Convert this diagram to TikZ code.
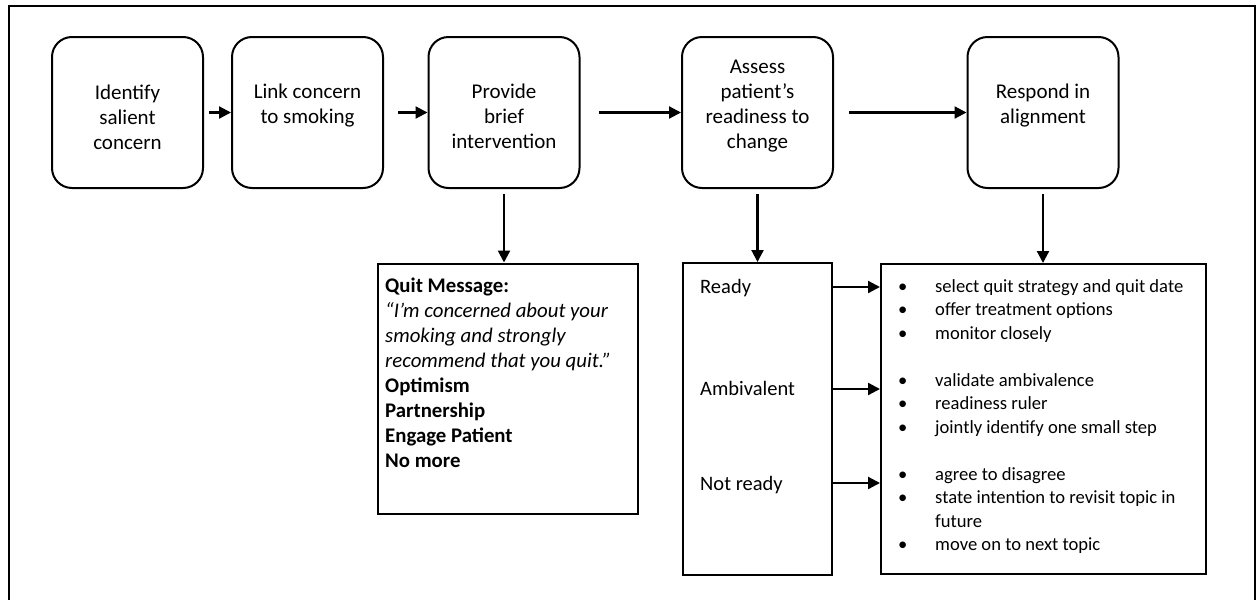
\documentclass[tikz,border=0pt]{standalone}
\usepackage{fontspec}
\setmainfont{Carlito}
\usetikzlibrary{arrows.meta,calc}
\newcommand\topfont{\fontsize{21}{25}\selectfont}
\newcommand\midfont{\fontsize{20.5}{25}\selectfont}
\newcommand\quitfont{\fontsize{20.8}{25.1}\selectfont}
\newcommand\listfont{\fontsize{18.6}{23.5}\selectfont}
\newcommand\bl{\makebox[38pt][l]{\hspace*{1pt}\textbullet}}
\begin{document}
\begin{tikzpicture}[x=1pt,y=-1pt,
  box/.style={draw,line width=2pt,rounded corners=20pt,minimum width=151pt,minimum height=151pt,inner sep=0pt},
  plain/.style={draw,line width=2pt,inner sep=0pt},
  arr/.style={line width=2.2pt,-{Triangle[length=12pt,width=12pt]}},
  txt/.style={inner sep=0pt,anchor=base}]
\useasboundingbox (0,0) rectangle (1257,600);
\draw[line width=2pt] (9,600) -- (9,6) -- (1255,6) -- (1255,600);

% top boxes
\node[box] (b1) at (127.5,112.5) {};
\node[box] (b2) at (307.5,112.5) {};
\node[box] (b3) at (504,112.5) {};
\node[box] (b4) at (757.5,112.5) {};
\node[box] (b5) at (1043,112.5) {};

\node[txt] (t1) at (127.5,99) {\parbox[t]{140pt}{\centering\topfont Identify\\salient\\concern}};
\node[txt] (t2) at (307.5,98) {\parbox[t]{140pt}{\centering\topfont Link concern\\to smoking}};
\node[txt] (t3) at (504,98) {\parbox[t]{140pt}{\centering\topfont Provide\\brief\\intervention}};
\node[txt] (t4) at (757.5,73) {\parbox[t]{140pt}{\centering\topfont Assess\\patient’s\\readiness to\\change}};
\node[txt] (t5) at (1043,98) {\parbox[t]{140pt}{\centering\topfont Respond in\\alignment}};

\draw[arr] ([xshift=5pt]b1.east) -- (b2.west);
\draw[arr] ([xshift=14pt]b2.east) -- (b3.west);
\draw[arr] ([xshift=18pt]b3.east) -- (b4.west);
\draw[arr] ([xshift=15pt]b4.east) -- (b5.west);

% lower boxes
\node[plain, minimum width=260pt, minimum height=250pt] (quit) at (508,388.5) {};
\node[plain, minimum width=149pt, minimum height=312pt] (ready) at (757.5,419) {};
\node[plain, minimum width=325pt, minimum height=310pt] (resp) at (1043.5,419) {};

\draw[arr] ([yshift=-5pt]b3.south) -- (b3.south |- quit.north);
\draw[arr] ([yshift=-5pt]b4.south) -- (b4.south |- ready.north);
\draw[arr] ([yshift=-5pt]b5.south) -- (b5.south |- resp.north);

\node[txt, anchor=base west] (qt) at (385,292) {\parbox[t]{250pt}{\raggedright\quitfont
\textbf{Quit Message:}\\
{\itshape “I’m concerned about your\\
smoking and strongly\\
recommend that you quit.”}\\
\textbf{Optimism}\\
\textbf{Partnership}\\
\textbf{Engage Patient}\\
\textbf{No more}}};

\node[txt, anchor=base west] (r1) at (700,293) {\midfont Ready};
\node[txt, anchor=base west] (r2) at (700,395) {\midfont Ambivalent};
\node[txt, anchor=base west] (r3) at (700,490) {\midfont Not ready};

\coordinate (a1) at (0,287);
\coordinate (a2) at (0,389);
\coordinate (a3) at (0,483);
\draw[arr] (ready.east |- a1) -- (resp.west |- a1);
\draw[arr] (ready.east |- a2) -- (resp.west |- a2);
\draw[arr] (ready.east |- a3) -- (resp.west |- a3);

\node[txt, anchor=base west] (rt) at (897,292) {\parbox[t]{305pt}{\raggedright\listfont
\bl select quit strategy and quit date\\
\bl offer treatment options\\
\bl monitor closely\\
\mbox{}\\
\bl validate ambivalence\\
\bl readiness ruler\\
\bl jointly identify one small step\\
\mbox{}\\
\bl agree to disagree\\
\bl state intention to revisit topic in\\
\hspace*{38pt}future\\
\bl move on to next topic}};
\end{tikzpicture}
\end{document}
